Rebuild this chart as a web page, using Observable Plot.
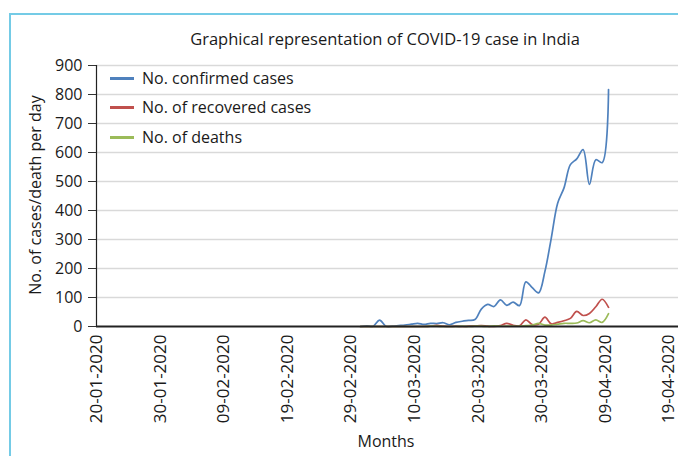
<!DOCTYPE html>
<html>
<head>
<meta charset="utf-8">
<script src="https://cdn.jsdelivr.net/npm/d3@7"></script>
<script src="https://cdn.jsdelivr.net/npm/@observablehq/plot@0.6"></script>
<style>
  html, body { margin: 0; padding: 0; background: #fff; }
  body { font-family: "Open Sans", sans-serif; color: #1a1a1a; }
  #wrap { position: relative; width: 678px; height: 456px; overflow: hidden; }
  #border { position: absolute; left: 9px; top: 13px; width: 700px; height: 500px;
            border-left: 2px solid #74cbe6; border-top: 2px solid #74cbe6; box-sizing: border-box; }
  #chart { position: absolute; left: 0; top: 0; }
  .lbl { position: absolute; white-space: nowrap; line-height: 20px; }
  #title { left: 385px; top: 29px; transform: translateX(-50%); font-size: 16.5px; }
  #ylab { left: 35px; top: 195px; transform: translate(-50%, -50%) rotate(-90deg); font-size: 16px; }
  #xlab { left: 386px; top: 431px; transform: translateX(-50%); font-size: 16px; }
  .leg { position: absolute; left: 110px; height: 20px; display: flex; align-items: center; font-size: 16px; white-space: nowrap; }
  .leg span.sw { display: inline-block; width: 24px; height: 3px; margin-right: 8px; }
</style>
</head>
<body>
<div id="wrap">
  <div id="border"></div>
  <div id="chart"></div>
  <div class="lbl" id="title">Graphical representation of COVID-19 case in India</div>
  <div class="lbl" id="ylab">No. of cases/death per day</div>
  <div class="lbl" id="xlab">Months</div>
  <div id="legend"></div>
</div>
<script>
// ---- data ----
const dates = [
  "2020-03-01","2020-03-02","2020-03-03","2020-03-04","2020-03-05","2020-03-06","2020-03-07","2020-03-08","2020-03-09","2020-03-10",
  "2020-03-11","2020-03-12","2020-03-13","2020-03-14","2020-03-15","2020-03-16","2020-03-17","2020-03-18","2020-03-19","2020-03-20",
  "2020-03-21","2020-03-22","2020-03-23","2020-03-24","2020-03-25","2020-03-26","2020-03-27","2020-03-28","2020-03-29","2020-03-30",
  "2020-03-31","2020-04-01","2020-04-02","2020-04-03","2020-04-04","2020-04-05","2020-04-06","2020-04-07","2020-04-08","2020-04-09"
];
const confirmed = [
  0, 2, 1, 22, 1, 1, 3, 5, 8, 11,
  7, 11, 10, 13, 6, 14, 18, 21, 24, 60,
  76, 69, 92, 73, 84, 72, 154, 134, 116, 190,
  305, 425, 478, 558, 578, 610, 490, 575, 565, 817
];
const recovered = [
  0, 0, 0, 0, 0, 0, 0, 0, 0, 0,
  0, 1, 4, 1, 0, 1, 0, 1, 2, 3,
  1, 0, 3, 11, 4, 2, 23, 7, 8, 32,
  9, 14, 20, 28, 52, 38, 45, 68, 94, 66
];
const deaths = [
  0, 0, 0, 0, 0, 0, 0, 0, 0, 0,
  0, 1, 1, 0, 0, 0, 1, 0, 1, 1,
  0, 2, 1, 1, 1, 1, 3, 5, 11, 5,
  5, 8, 11, 11, 12, 20, 13, 23, 14, 44
];
const seriesNames = ["No. confirmed cases", "No. of recovered cases", "No. of deaths"];
const seriesColors = ["#4f81bd", "#c0504d", "#9bbb59"];
const xTickLabels = ["20-01-2020","30-01-2020","09-02-2020","19-02-2020","29-02-2020",
                     "10-03-2020","20-03-2020","30-03-2020","09-04-2020","19-04-2020"];
const yTicks = [0, 100, 200, 300, 400, 500, 600, 700, 800, 900];

// ---- build table ----
const parseISO = d3.utcParse("%Y-%m-%d");
const parseTick = d3.utcParse("%d-%m-%Y");
const values = [confirmed, recovered, deaths];
const rows = [];
values.forEach((arr, s) => arr.forEach((v, i) => rows.push({date: parseISO(dates[i]), value: v, series: seriesNames[s]})));
const xTicks = xTickLabels.map(parseTick);
const DAY = 864e5;
const xStart = xTicks[0];
const xEnd = new Date(+xStart + 91.5 * DAY);
const halfDay = d => new Date(+d.date + DAY / 2);

const chart = Plot.plot({
  width: 678,
  height: 456,
  marginLeft: 96,
  marginRight: 0,
  marginTop: 65,
  marginBottom: 130,
  style: {fontFamily: "Open Sans, sans-serif", fontSize: "16px", color: "#1a1a1a", background: "transparent", overflow: "visible"},
  x: {type: "utc", domain: [xStart, xEnd]},
  y: {domain: [0, 900]},
  color: {domain: seriesNames, range: seriesColors},
  marks: [
    Plot.gridY(yTicks.filter(v => v > 0), {stroke: "#d9d9d9", strokeOpacity: 1, strokeWidth: 1.5}),
    Plot.axisY({ticks: yTicks, tickSize: 8, tickPadding: 6, fontSize: 16, label: null, stroke: "#333"}),
    Plot.axisX({ticks: xTicks, tickFormat: d3.utcFormat("%d-%m-%Y"), tickRotate: -90, tickSize: 0, tickPadding: 8, fontSize: 17, label: null}),
    Plot.lineY(rows, {x: halfDay, y: "value", z: "series", stroke: "series", strokeWidth: 1.7, curve: "catmull-rom"}),
    Plot.ruleY([0], {stroke: "#222", strokeWidth: 1.8}),
    Plot.ruleX([xStart], {y1: 0, y2: 900, stroke: "#222", strokeWidth: 1.2})
  ]
});
document.getElementById("chart").appendChild(chart);

// ---- legend ----
const legendY = [78, 107, 137];
const legend = document.getElementById("legend");
seriesNames.forEach((name, i) => {
  const d = document.createElement("div");
  d.className = "leg";
  d.style.top = (legendY[i] - 10) + "px";
  d.innerHTML = `<span class="sw" style="background:${seriesColors[i]}"></span>${name}`;
  legend.appendChild(d);
});
</script>
</body>
</html>
